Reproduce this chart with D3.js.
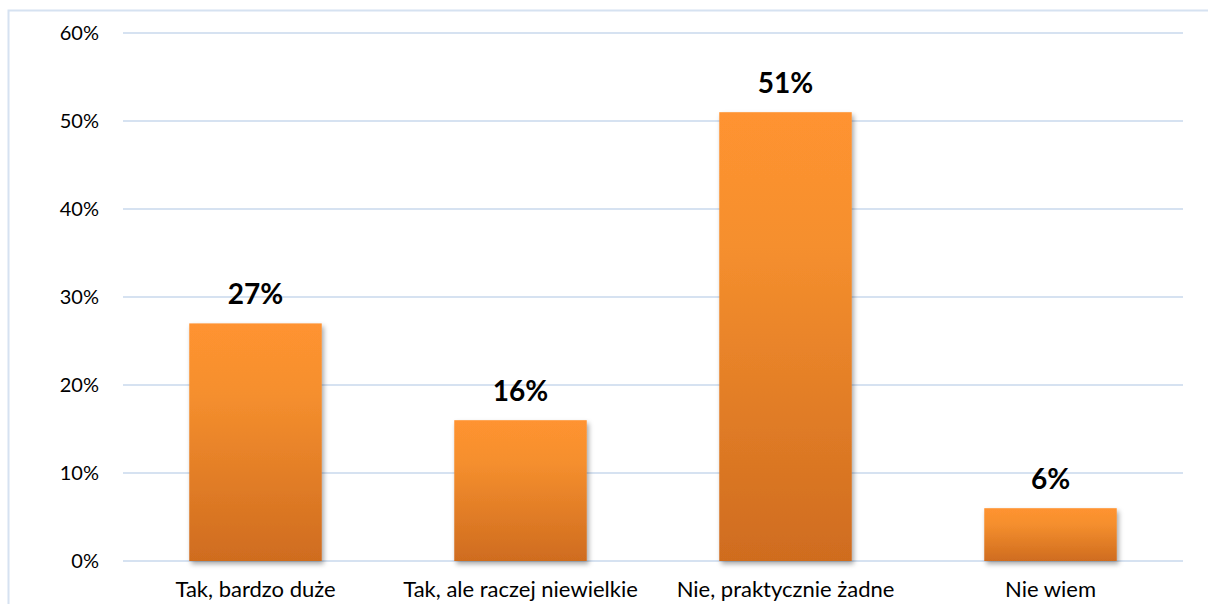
<!DOCTYPE html>
<html>
<head>
<meta charset="utf-8">
<script src="https://cdn.jsdelivr.net/npm/d3@7"></script>
<style>
  body { margin: 0; background: #fff; }
  svg text { font-family: Lato, "Open Sans", sans-serif; }
</style>
</head>
<body>
<div id="app"></div>
<script>
var categories = ['Tak, bardzo duże', 'Tak, ale raczej niewielkie', 'Nie, praktycznie żadne', 'Nie wiem']
var values = [27, 16, 51, 6]
var yTicks = [0, 10, 20, 30, 40, 50, 60]

var width = 1208
var height = 604
var margin = { top: 33, right: 25, bottom: 43, left: 123 }

var svg = d3.select('#app')
  .append('svg')
    .attr('width', width)
    .attr('height', height)

var defs = svg.append('defs')

var grad = defs.append('linearGradient')
  .attr('id', 'barGrad')
  .attr('x1', 0).attr('y1', 0).attr('x2', 0).attr('y2', 1)
grad.append('stop').attr('offset', '0%').attr('stop-color', '#ff9330')
grad.append('stop').attr('offset', '30%').attr('stop-color', '#f58f2e')
grad.append('stop').attr('offset', '100%').attr('stop-color', '#cf6c1f')

var shadow = defs.append('filter')
  .attr('id', 'shadow')
  .attr('x', '-20%').attr('y', '-10%').attr('width', '140%').attr('height', '130%')
shadow.append('feDropShadow')
  .attr('dx', 2).attr('dy', 3).attr('stdDeviation', 2.5)
  .attr('flood-color', '#000').attr('flood-opacity', 0.35)

// outer frame (left and top only, as in the reference)
svg.append('path')
  .attr('d', 'M8.5,' + height + 'V10.5H' + width)
  .attr('fill', 'none')
  .attr('stroke', '#d6e2f1')
  .attr('stroke-width', 2)

var x = d3.scaleBand()
  .domain(categories)
  .range([margin.left, width - margin.right])
  .paddingInner(0.5)
  .paddingOuter(0.25)

var y = d3.scaleLinear()
  .domain([0, 60])
  .range([height - margin.bottom, margin.top])

// gridlines
svg.append('g')
  .selectAll('line')
  .data(yTicks)
  .enter()
  .append('line')
    .attr('x1', margin.left)
    .attr('x2', width - margin.right)
    .attr('y1', function(d) { return y(d) })
    .attr('y2', function(d) { return y(d) })
    .attr('stroke', '#d6e2f1')
    .attr('stroke-width', 2)

// y axis labels
var yAxis = d3.axisLeft(y)
  .tickValues(yTicks)
  .tickSize(0)
  .tickPadding(24)
  .tickFormat(function(d) { return d + '%' })

svg.append('g')
  .attr('transform', 'translate(' + margin.left + ',0)')
  .call(yAxis)
  .call(function(g) { g.select('.domain').remove() })
  .selectAll('text')
    .attr('font-size', 20)
    .attr('fill', '#000')
    .attr('font-family', 'Lato, "Open Sans", sans-serif')

// bars
svg.append('g')
  .selectAll('.bar')
  .data(values)
  .enter()
  .append('rect')
    .attr('class', 'bar')
    .attr('x', function(d, i) { return x(categories[i]) })
    .attr('y', function(d) { return y(d) })
    .attr('width', x.bandwidth())
    .attr('height', function(d) { return y(0) - y(d) })
    .attr('fill', 'url(#barGrad)')
    .attr('filter', 'url(#shadow)')

// value labels
svg.append('g')
  .selectAll('.value')
  .data(values)
  .enter()
  .append('text')
    .attr('class', 'value')
    .attr('x', function(d, i) { return x(categories[i]) + x.bandwidth() / 2 })
    .attr('y', function(d) { return y(d) - 19 })
    .attr('text-anchor', 'middle')
    .attr('font-size', 28)
    .attr('font-weight', 'bold')
    .attr('fill', '#000')
    .text(function(d) { return d + '%' })

// x axis labels
var xAxis = d3.axisBottom(x).tickSize(0).tickPadding(20)

svg.append('g')
  .attr('transform', 'translate(0,' + y(0) + ')')
  .call(xAxis)
  .call(function(g) { g.select('.domain').remove() })
  .selectAll('text')
    .attr('font-size', 22)
    .attr('fill', '#000')
    .attr('font-family', 'Lato, "Open Sans", sans-serif')
</script>
</body>
</html>
